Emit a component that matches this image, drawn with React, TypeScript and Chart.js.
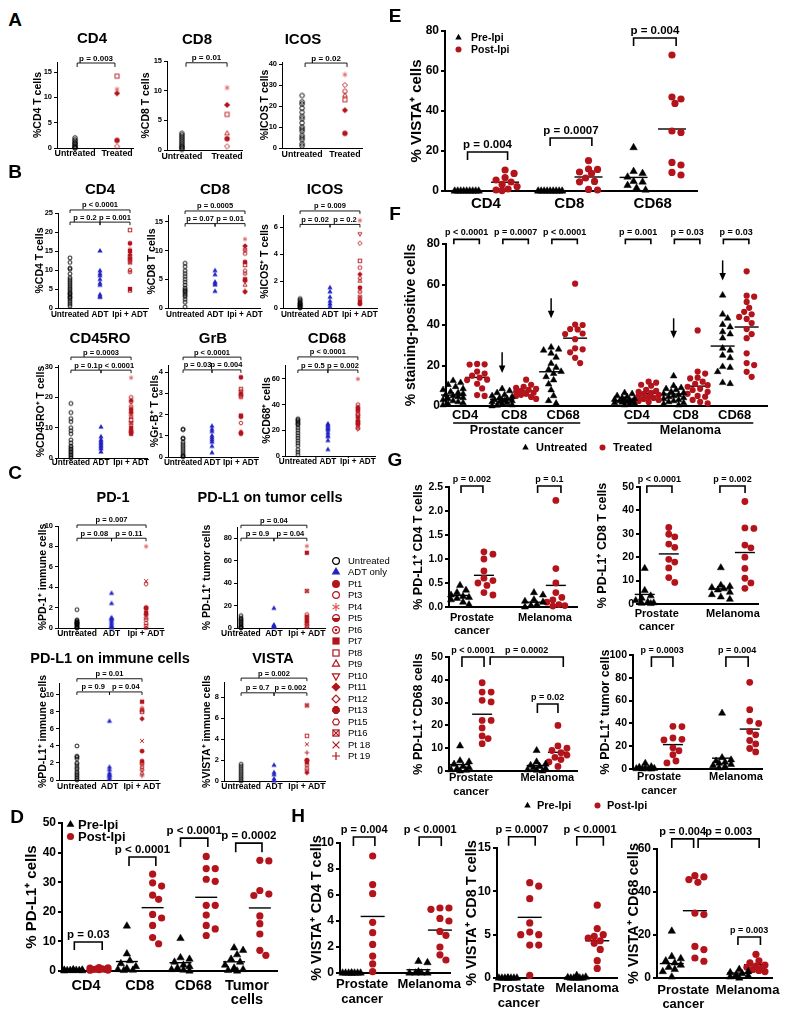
import React, { useEffect, useRef } from 'react';
import { Chart, registerables } from 'chart.js';

Chart.register(...registerables);
const FONT = '"Liberation Sans", Arial, Helvetica, sans-serif';
Chart.defaults.font.family = FONT;
Chart.defaults.color = '#000';

const RED = '#b3141c';
const PINK = '#dd5a5a';
const BLUE = '#2323c4';

// ---------------- DATA ----------------
// Panel A
const A_CD4_UNT = [2.0, 1.6, 1.3, 1.0, 0.8, 0.5, 0.3, 0.1, 0];
const A_CD4_TRT = [14.2, 11.6, 10.8, 1.5, 0.3];
const A_CD4_TRT_PT = ['Pt8', 'Pt4', 'Pt11', 'Pt1', 'Pt12'];
const A_CD8_UNT = [2.8, 2.5, 2.2, 1.9, 1.6, 1.3, 1.0, 0.7, 0.5, 0.3, 0.1];
const A_CD8_TRT = [10.5, 7.6, 6.0, 2.8, 1.9, 0.6];
const A_CD8_TRT_PT = ['Pt4', 'Pt11', 'Pt8', 'Pt9', 'Pt1', 'Pt12'];
const A_ICOS_UNT = [25, 22, 21, 19, 17, 15, 14, 12, 10, 9, 8, 6, 5, 4, 2, 1];
const A_ICOS_TRT = [35, 30, 27, 25, 23, 18, 7];
const A_ICOS_TRT_PT = ['Pt4', 'Pt12', 'Pt3', 'Pt9', 'Pt8', 'Pt11', 'Pt1'];

// Panel B
const B_CD4_UNT = [13.2, 12.0, 10.5, 10.2, 9.0, 8.0, 7.5, 7.0, 6.5, 6.0, 5.5, 5.0, 4.5, 4.0, 3.8, 3.5, 3.0, 2.8, 2.5, 2.0, 1.5, 1.0, 0.5];
const B_CD4_ADT = [15, 9.8, 9, 8.5, 7.5, 6.5, 6, 3.5, 3, 2.8];
const B_CD4_IPI = [20.5, 17, 15.5, 15, 14, 13.5, 13, 12.5, 12, 10, 9.5, 5, 4.5];
const B_CD4_IPI_PT = ['Pt8', 'Pt1', 'Pt4', 'Pt7', 'Pt11', 'Pt3', 'Pt13', 'Pt12', 'Pt16', 'Pt15', 'Pt6', 'Pt7', 'Pt9'];
const B_CD8_UNT = [7.8, 7.2, 6.5, 6.0, 5.5, 5.0, 4.5, 4.0, 3.5, 3.2, 3.0, 2.8, 2.5, 2.2, 2.0, 1.5, 1.0, 0.2];
const B_CD8_ADT = [6.5, 5.8, 4.5, 4.3, 4.0, 2.9];
const B_CD8_IPI = [12.0, 10.8, 10.2, 10.0, 9.5, 8.0, 7.5, 6.5, 6.0, 5.0, 4.8, 4.0, 3.0, 2.8];
const B_CD8_IPI_PT = ['Pt4', 'Pt11', 'Pt10', 'Pt12', 'Pt3', 'Pt1', 'Pt8', 'Pt15', 'Pt6', 'Pt7', 'Pt13', 'Pt9', 'Pt 19', 'Pt11'];
const B_ICOS_UNT = [0.7, 0.6, 0.5, 0.4, 0.35, 0.3, 0.25, 0.2, 0.15, 0.1, 0.05, 0];
const B_ICOS_ADT = [1.5, 1.2, 0.8, 0.5, 0.3, 0.1];
const B_ICOS_IPI = [6.5, 5.5, 4.8, 3.5, 3.0, 2.5, 2.2, 2.0, 1.5, 1.2, 0.8, 0.5, 0.3];
const B_ICOS_IPI_PT = ['Pt4', 'Pt10', 'Pt12', 'Pt8', 'Pt3', 'Pt11', 'Pt15', 'Pt9', 'Pt1', 'Pt6', 'Pt16', 'Pt7', 'Pt13'];
const B_CD45_UNT = [18, 15, 13, 12, 10, 9, 8, 6, 5, 4, 3.5, 3, 2.5, 2, 1.5, 1, 0.5, 0];
const B_CD45_ADT = [10.2, 7, 6, 5.5, 5, 4.5, 4, 3.5, 3, 2];
const B_CD45_IPI = [26.5, 20, 19, 18.5, 17, 16, 15, 14, 13.5, 12.5, 11.5, 10, 9, 8.5, 8];
const B_CD45_IPI_PT = ['Pt4', 'Pt3', 'Pt11', 'Pt15', 'Pt6', 'Pt1', 'Pt13', 'Pt12', 'Pt9', 'Pt8', 'Pt16', 'Pt7', 'Pt1', 'Pt13', 'Pt7'];
const B_GRB_UNT = [1.3, 1.3, 0.9, 0.85, 0.7, 0.6, 0.5, 0.4, 0.3, 0.2, 0.1, 0.05, 0];
const B_GRB_ADT = [1.45, 1.3, 1.2, 1.0, 0.9, 0.8, 0.7, 0.5, 0.2];
const B_GRB_IPI = [3.75, 3.2, 3.1, 3.0, 2.9, 2.85, 2.8, 1.95, 1.9, 1.6, 1.2, 1.15, 1.1];
const B_GRB_IPI_PT = ['Pt1', 'Pt8', 'Pt3', 'Pt11', 'Pt13', 'Pt7', 'Pt4', 'Pt7', 'Pt1', 'Pt15', 'Pt4', 'Pt11', 'Pt1'];
const B_CD68_UNT = [29, 28, 27, 26, 25, 24, 22, 20, 18, 16, 14, 12, 10, 8, 5, 3, 1];
const B_CD68_ADT = [25, 24, 23, 22, 21, 20, 18, 16, 15, 12, 5];
const B_CD68_IPI = [60, 40, 38, 37, 36, 35, 33, 32, 30, 28, 27, 26, 25, 23, 22, 21];
const B_CD68_IPI_PT = ['Pt4', 'Pt3', 'Pt11', 'Pt12', 'Pt1', 'Pt15', 'Pt8', 'Pt6', 'Pt13', 'Pt9', 'Pt7', 'Pt16', 'Pt1', 'Pt10', 'Pt3', 'Pt12'];

// Panel C
const C_PD1_UNT = [1.8, 0.8, 0.7, 0.6, 0.55, 0.5, 0.45, 0.4, 0.35, 0.3, 0.2, 0.1, 0.05, 0];
const C_PD1_ADT = [3.4, 2.4, 1.0, 0.9, 0.8, 0.6, 0.4, 0.2, 0.1, 0];
const C_PD1_IPI = [8.0, 4.6, 4.3, 2.0, 1.9, 1.5, 1.3, 1.0, 0.8, 0.5, 0.2, 0.0];
const C_PD1_IPI_PT = ['Pt4', 'Pt 18', 'Pt15', 'Pt13', 'Pt1', 'Pt7', 'Pt11', 'Pt6', 'Pt3', 'Pt12', 'Pt8', 'Pt9'];
const C_TUM_UNT = [11, 9, 8, 7, 6, 5, 4, 3, 2, 1, 0.5, 0];
const C_TUM_ADT = [17.5, 2.5, 2, 1.5, 1, 0.5];
const C_TUM_IPI = [73, 67, 33, 12, 10, 8, 6, 5, 3, 2, 1];
const C_TUM_IPI_PT = ['Pt4', 'Pt7', 'Pt16', 'Pt3', 'Pt13', 'Pt11', 'Pt1', 'Pt6', 'Pt12', 'Pt8', 'Pt9'];
const C_IMM_UNT = [4.0, 2.8, 2.7, 2.5, 2.0, 1.8, 1.5, 1.3, 1.0, 0.8, 0.6, 0.4, 0.2, 0];
const C_IMM_ADT = [6.9, 1.5, 1.2, 0.8, 0.6, 0.5, 0.3, 0.1];
const C_IMM_IPI = [9.2, 8.5, 8.2, 8.0, 7.2, 4.6, 3.4, 2.2, 2.0, 1.8, 1.5, 1.2, 0.8, 0.5];
const C_IMM_IPI_PT = ['Pt7', 'Pt4', 'Pt16', 'Pt8', 'Pt11', 'Pt 18', 'Pt13', 'Pt1', 'Pt3', 'Pt12', 'Pt15', 'Pt6', 'Pt9', 'Pt 19'];
const C_VISTA_UNT = [1.6, 1.4, 1.2, 1.0, 0.8, 0.6, 0.4, 0.2, 0];
const C_VISTA_ADT = [1.5, 0.8, 0.6, 0.2, 0];
const C_VISTA_IPI = [7.2, 4.3, 3.5, 2.7, 2.0, 1.9, 1.8, 1.5, 1.2, 1.0, 0.8];
const C_VISTA_IPI_PT = ['Pt16', 'Pt8', 'Pt 18', 'Pt 19', 'Pt13', 'Pt1', 'Pt7', 'Pt6', 'Pt3', 'Pt12', 'Pt11'];
const C_LEGEND = ['Untreated', 'ADT only', 'Pt1', 'Pt3', 'Pt4', 'Pt5', 'Pt6', 'Pt7', 'Pt8', 'Pt9', 'Pt10', 'Pt11', 'Pt12', 'Pt13', 'Pt15', 'Pt16', 'Pt 18', 'Pt 19'];

// Panel D / G (PD-L1, prostate) and G (melanoma)
const PDL1_CD4_PRO_PRE = [0.45, 0.35, 0.3, 0.25, 0.22, 0.2, 0.18, 0.15, 0.1, 0.05];
const PDL1_CD4_PRO_POST = [1.15, 1.1, 1.0, 0.75, 0.6, 0.55, 0.5, 0.45, 0.3, 0.25];
const PDL1_CD8_PRO_PRE = [15.2, 5.8, 3.5, 2.5, 1.5, 0.8, 0.5, 0.3, 0.2];
const PDL1_CD8_PRO_POST = [32.7, 29.8, 28.7, 25.6, 24.2, 19.1, 17.9, 15.4, 11.3, 9.2];
const PDL1_CD68_PRO_PRE = [11, 4.5, 4.0, 3.0, 2.0, 1.5, 1.0, 0.5, 0.3, 0];
const PDL1_CD68_PRO_POST = [38.7, 34.6, 34.6, 31, 30.3, 22.2, 22.2, 18.9, 15.4, 14.2, 12];
const PDL1_TUM_PRO_PRE_D = [7.8, 7.0, 5.5, 4.0, 3.0, 2.0, 1.0, 0.5, 0.2, 0];
const PDL1_TUM_PRO_PRE_G = [5.0, 2.0, 1.5, 1.0, 0.5, 0.3, 0.2, 0.1, 0];
const PDL1_TUM_PRO_POST = [37.4, 37.2, 27.2, 26.0, 25.5, 18.6, 16.0, 12.5, 7.0, 5.3];
const D_CATS = ['CD4', 'CD8', 'CD68', ['Tumor', 'cells']];
const D_MEAN_PRE = [0.24, 3.2, 2.8, 3.1];
const D_MEAN_POST = [0.66, 21.4, 24.9, 21.3];

const G_CD4_MEL_PRE = [0.3, 0.25, 0.15, 0.12, 0.1, 0.05, 0.03, 0];
const G_CD4_MEL_POST = [2.22, 0.8, 0.5, 0.3, 0.2, 0.15, 0.1, 0.05, 0.03, 0.02];
const G_CD8_MEL_PRE = [15.5, 8, 7.5, 7, 6.5, 6, 5, 4, 3, 2];
const G_CD8_MEL_POST = [43.8, 32.5, 32.3, 25.2, 24, 20, 15.2, 11, 9, 6.7];
const G_CD68_MEL_PRE = [9, 4, 3, 2.5, 2, 1.5, 1, 0.5, 0.3, 0];
const G_CD68_MEL_POST = [20, 11, 10, 9, 8, 7, 6, 5, 4, 2];
const G_TUM_MEL_PRE = [49, 10, 8, 7, 6, 5, 4, 3, 2, 1];
const G_TUM_MEL_POST = [76, 52, 42, 40, 33, 30, 25, 22, 18, 15];
const G_CATS = [['Prostate', 'cancer'], 'Melanoma'];

// Panel E (VISTA, prostate)
const E_CD4_PRE = [0, 0, 0, 0, 0, 0, 0, 0, 0];
const E_CD4_POST = [10.5, 8.8, 6.7, 5.5, 4.5, 3.3, 2.2, 1.0, 0.5, 0.2];
const E_CD8_PRE = [0, 0, 0, 0, 0, 0, 0, 0, 0];
const E_CD8_POST = [15.2, 11, 10.8, 9.5, 8.8, 6.5, 4.8, 4.6, 0.8, 0.5];
const E_CD68_PRE = [21.7, 9.8, 8.8, 7.0, 4.8, 4.5, 2.8, 1.5, 0.5];
const E_CD68_POST = [68, 47, 46, 43.8, 30, 29.3, 14.3, 13, 9.3, 8];
const E_CATS = ['CD4', 'CD8', 'CD68'];
const E_MEAN_POST = [4.4, 7.0, 31];

// Panel F
const F_PRO_CD4_UNT = [12.5, 11.5, 10.5, 9.5, 8.5, 8.0, 7.0, 6.5, 6.0, 5.5, 5.0, 4.5, 4.0, 3.5, 3.0, 2.5, 2.0, 1.5, 1.0, 0.5];
const F_PRO_CD4_TRT = [20.8, 20.6, 20.5, 17, 16, 15, 14, 13, 12.8, 11, 8.7, 5.4, 5];
const F_PRO_CD8_UNT = [8.5, 7.5, 6.5, 5.5, 5.0, 4.5, 4.0, 3.5, 3.0, 3.0, 2.5, 2.5, 2.0, 2.0, 1.5, 1.0, 0.5, 0.3, 0];
const F_PRO_CD8_TRT = [13, 10.5, 9.5, 9, 8.5, 8, 7.5, 7, 6.5, 6, 5.5, 5, 4.5, 3.5];
const F_PRO_CD68_UNT = [29, 28, 27.5, 26, 24, 21, 19, 18, 17, 16, 14.4, 12.8, 10.8, 7.9, 5, 2.6, 1.3];
const F_PRO_CD68_TRT = [60.4, 40.2, 40, 38, 37.8, 35.8, 35.5, 33, 28.5, 28, 26.5, 23.8, 21.2];
const F_MEL_CD4_UNT = [6.5, 6, 5, 4.5, 4, 3.5, 3.2, 3, 2.8, 2.5, 2.2, 2, 1.8, 1.5, 1.2, 1, 0.5];
const F_MEL_CD4_TRT = [12, 11.5, 10.5, 10, 8, 7.5, 7, 6.5, 6, 5.5, 5, 4.5, 4, 3.5, 3, 2.5, 2];
const F_MEL_CD8_UNT = [14.8, 10, 9, 8.5, 8, 7, 6.5, 6, 5.5, 5, 4.5, 4, 3.5, 3, 2.5, 2, 1.5, 1, 0.5];
const F_MEL_CD8_TRT = [37.3, 17, 16, 14, 13.6, 12, 11, 10.3, 9.5, 8.5, 7.9, 7, 6, 5, 4.6, 3, 2, 1.3];
const F_MEL_CD68_UNT = [54.7, 45.3, 43.3, 40.2, 39, 36.6, 35.5, 33.5, 28.5, 27.5, 25, 23.8, 19.4, 19, 16.9, 11.5, 11];
const F_MEL_CD68_TRT = [66.5, 54.5, 54, 51.4, 48.5, 46.5, 45.3, 44, 43, 41, 38, 35.5, 33.5, 26, 21.2, 20.2, 16.9, 14.4];
const F_CATS = ['CD4', 'CD8', 'CD68', 'CD4', 'CD8', 'CD68'];
const F_MEAN_UNT = [5.4, 3.3, 16.9, 2.6, 5.9, 29.6];
const F_MEAN_TRT = [14.1, 7.4, 33.5, 6.2, 9.8, 39];
const F_P = ['p < 0.0001', 'p = 0.0007', 'p < 0.0001', 'p = 0.001', 'p = 0.03', 'p = 0.03'];

// Panel H (VISTA)
const H_CD4_PRO_PRE = [0, 0, 0, 0, 0, 0, 0, 0];
const H_CD4_PRO_POST = [9.0, 6.8, 6.1, 3.9, 3.1, 2.2, 1.3, 0.7, 0.1];
const H_CD4_MEL_PRE = [0.9, 0.8, 0.1, 0, 0, 0, 0];
const H_CD4_MEL_POST = [5, 5, 4.9, 4.2, 4, 3.2, 2.9, 2, 1.4, 1];
const H_CD8_PRO_PRE = [0, 0, 0, 0, 0, 0, 0, 0];
const H_CD8_PRO_POST = [11, 10.6, 9.15, 6.35, 5.3, 5.0, 5.0, 3.8, 3.8, 0.3];
const H_CD8_MEL_PRE = [0.3, 0.1, 0.05, 0, 0, 0, 0, 0];
const H_CD8_MEL_POST = [8.4, 5.7, 5.0, 4.8, 4.6, 4.3, 4.0, 3.3, 2, 1.1];
const H_CD68_PRO_PRE = [21.8, 10, 9, 8, 7, 6, 5, 4, 3, 0.5];
const H_CD68_PRO_POST = [47.6, 47, 45.8, 44.5, 30.2, 29.5, 14.7, 13.2, 9.3, 7.8];
const H_CD68_MEL_PRE = [4, 3, 2.5, 2, 1.5, 1, 0.5, 0];
const H_CD68_MEL_POST = [11, 8, 7, 6, 5.5, 5, 4.5, 4, 3.5, 3];

// ---------------- MARKERS ----------------
const PT_STYLE: Record<string, [string, string]> = {
  Untreated: ['circleOpen', '#000'],
  'ADT only': ['triFilled', BLUE],
  Pt1: ['circleFilled', RED],
  Pt3: ['circleOpen', RED],
  Pt4: ['star', PINK],
  Pt5: ['halfCircle', RED],
  Pt6: ['circleDot', RED],
  Pt7: ['squareFilled', RED],
  Pt8: ['squareOpen', RED],
  Pt9: ['triOpen', RED],
  Pt10: ['triDownOpen', RED],
  Pt11: ['diamondFilled', RED],
  Pt12: ['diamondOpen', RED],
  Pt13: ['octFilled', RED],
  Pt15: ['hexOpen', RED],
  Pt16: ['boxX', RED],
  'Pt 18': ['x', RED],
  'Pt 19': ['plus', RED],
};

function drawMarker(ctx: CanvasRenderingContext2D, kind: string, cx: number, cy: number, r: number, color: string, lw: number) {
  ctx.save();
  ctx.strokeStyle = color;
  ctx.fillStyle = color;
  ctx.lineWidth = lw;
  const poly = (n: number, rot: number, rr: number) => {
    ctx.beginPath();
    for (let i = 0; i < n; i++) {
      const a = rot + (i * 2 * Math.PI) / n;
      const px = cx + rr * Math.cos(a);
      const py = cy + rr * Math.sin(a);
      if (i === 0) ctx.moveTo(px, py);
      else ctx.lineTo(px, py);
    }
    ctx.closePath();
  };
  const ri = r - lw / 2;
  const circ = (rr: number) => {
    ctx.beginPath();
    ctx.arc(cx, cy, rr, 0, Math.PI * 2);
  };
  switch (kind) {
    case 'circleOpen': circ(ri); ctx.stroke(); break;
    case 'circleFilled': circ(r); ctx.fill(); break;
    case 'octFilled': poly(8, Math.PI / 8, r * 1.05); ctx.fill(); break;
    case 'hexOpen': poly(6, 0, ri); ctx.stroke(); break;
    case 'halfCircle':
      circ(ri); ctx.stroke();
      ctx.beginPath(); ctx.arc(cx, cy, ri, 0, Math.PI); ctx.closePath(); ctx.fill();
      break;
    case 'circleDot':
      circ(ri); ctx.stroke();
      circ(r * 0.32); ctx.fill();
      break;
    case 'triFilled': poly(3, -Math.PI / 2, r * 1.25); ctx.fill(); break;
    case 'triOpen': poly(3, -Math.PI / 2, ri * 1.2); ctx.stroke(); break;
    case 'triDownOpen': poly(3, Math.PI / 2, ri * 1.2); ctx.stroke(); break;
    case 'squareFilled': ctx.fillRect(cx - r * 0.9, cy - r * 0.9, r * 1.8, r * 1.8); break;
    case 'squareOpen': ctx.strokeRect(cx - ri * 0.9, cy - ri * 0.9, ri * 1.8, ri * 1.8); break;
    case 'boxX':
      ctx.strokeRect(cx - ri * 0.9, cy - ri * 0.9, ri * 1.8, ri * 1.8);
      ctx.beginPath();
      ctx.moveTo(cx - ri * 0.9, cy - ri * 0.9); ctx.lineTo(cx + ri * 0.9, cy + ri * 0.9);
      ctx.moveTo(cx + ri * 0.9, cy - ri * 0.9); ctx.lineTo(cx - ri * 0.9, cy + ri * 0.9);
      ctx.stroke();
      break;
    case 'diamondFilled': poly(4, -Math.PI / 2, r * 1.15); ctx.fill(); break;
    case 'diamondOpen': poly(4, -Math.PI / 2, ri * 1.15); ctx.stroke(); break;
    case 'star':
      ctx.beginPath();
      for (let k = 0; k < 3; k++) {
        const a = Math.PI / 2 + (k * Math.PI) / 3;
        ctx.moveTo(cx - r * Math.cos(a), cy - r * Math.sin(a));
        ctx.lineTo(cx + r * Math.cos(a), cy + r * Math.sin(a));
      }
      ctx.stroke();
      break;
    case 'x':
      ctx.beginPath();
      ctx.moveTo(cx - r * 0.85, cy - r * 0.85); ctx.lineTo(cx + r * 0.85, cy + r * 0.85);
      ctx.moveTo(cx + r * 0.85, cy - r * 0.85); ctx.lineTo(cx - r * 0.85, cy + r * 0.85);
      ctx.stroke();
      break;
    case 'plus':
      ctx.beginPath();
      ctx.moveTo(cx - r, cy); ctx.lineTo(cx + r, cy);
      ctx.moveTo(cx, cy - r); ctx.lineTo(cx, cy + r);
      ctx.stroke();
      break;
  }
  ctx.restore();
}

const mkCache = new Map<string, HTMLCanvasElement>();
function markerImg(pt: string, r: number, lw: number) {
  const key = pt + '|' + r + '|' + lw;
  const hit = mkCache.get(key);
  if (hit) return hit;
  const [kind, color] = PT_STYLE[pt];
  const s = Math.ceil(r * 2.6 + lw + 2);
  const c = document.createElement('canvas');
  c.width = s;
  c.height = s;
  drawMarker(c.getContext('2d')!, kind, s / 2, s / 2, r, color, lw);
  mkCache.set(key, c);
  return c;
}

// deterministic beeswarm layout (pixel offsets)
function swarm(vals: number[], yppu: number, diam: number, step: number, maxPx: number) {
  const idx = vals.map((_, i) => i).sort((a, b) => vals[b] - vals[a]);
  const placed: [number, number][] = [];
  const out = vals.map(() => 0);
  for (const i of idx) {
    const y = vals[i] * yppu;
    let best = 0;
    let bestD = -1;
    for (let k = 0; k < 80; k++) {
      const m = Math.ceil(k / 2) * (k % 2 ? 1 : -1);
      const cx = m * step;
      if (Math.abs(cx) > maxPx) break;
      let dmin = Infinity;
      for (const [px, py] of placed) dmin = Math.min(dmin, Math.hypot(px - cx, py - y));
      if (dmin >= diam) { best = cx; bestD = dmin; break; }
      if (dmin > bestD + 0.01) { bestD = dmin; best = cx; }
    }
    placed.push([best, y]);
    out[i] = best;
  }
  return out;
}

// ---------------- SPECS ----------------
type Grp = { x: number; vals: number[]; pts?: string | string[]; kind?: 'pre' | 'post'; mean?: number };
type Br = { x1: number; x2: number; y: number; t: string; dl?: number; dr?: number; f?: number };
type Spec = {
  key: string; style: 'small' | 'big'; box: number[]; xMin: number; xMax: number; yMax: number;
  yTicks: number[]; yDec?: number; xTicks: number[]; xLabels: any[]; groups: Grp[]; brackets: Br[];
  yTitle: string; yTitleX: number; o?: any;
  arrows?: { x: number; y1: number; y2: number }[];
  glabels?: { x1: number; x2: number; t: string; dy1: number; dy2: number }[];
};

const SMALL = { axisW: 1, tickLen: 3, tickFont: 7.5, xFont: 8.2, xLH: 1.2, xPad: 1, yTitleFont: 10.5, brFont: 7.5, brLw: 0.9, brDrop: 3, brGap: 2.5, mr: 2.4, mlw: 0.9, swarm: false, diam: 5, step: 2, maxPx: 0, circR: 3, triR: 3, meanHalf: 0, meanW: 1 };
const BIG = { axisW: 2, tickLen: 4, tickFont: 12, xFont: 14.5, xLH: 1.2, xPad: 4, yTitleFont: 15, brFont: 11.5, brLw: 1.6, brDrop: 9, brGap: 4, mr: 3, mlw: 1, swarm: true, diam: 7, step: 3, maxPx: 12, circR: 3.6, triR: 4.3, meanHalf: 11, meanW: 1.4 };

const tri = (unt: number[], adt: number[], ipi: number[], pts: string[]): Grp[] => [
  { x: 0, vals: unt, pts: 'Untreated' },
  { x: 1, vals: adt, pts: 'ADT only' },
  { x: 2, vals: ipi, pts },
];
const b3 = (yTop: number, yLow: number, t: string[]): Br[] => [
  { x1: 0, x2: 2, y: yTop, t: t[0] },
  { x1: 0, x2: 1, y: yLow, t: t[1] },
  { x1: 1, x2: 2, y: yLow, t: t[2] },
];
const pp = (c: number, off: number, pre: number[], post: number[], mPre?: number, mPost?: number): Grp[] => [
  { x: c - off, vals: pre, kind: 'pre', mean: mPre },
  { x: c + off, vals: post, kind: 'post', mean: mPost },
];
const BX3 = ['Untreated', 'ADT', 'Ipi + ADT'];
const D_O = { tickFont: 12, xFont: 14.5, yTitleFont: 15, brFont: 11.5, meanHalf: 11, maxPx: 11, xLH: 0.95, xPad: 8 };
const G_O = { tickFont: 10.5, xFont: 11, yTitleFont: 12.5, brFont: 9, brDrop: 7, circR: 3.4, triR: 4.1, meanHalf: 10, maxPx: 9, diam: 6.5, xLH: 1.2 };
const H_O = { tickFont: 12, xFont: 13, yTitleFont: 14.5, brFont: 11, brDrop: 9, meanHalf: 12, maxPx: 10, xLH: 1.15 };
const A_O = { brFont: 8, brDrop: 4, xFont: 8.8, mr: 2.7 };

const SPECS: Spec[] = [
  // ---- A ----
  { key: 'aCD4', style: 'small', box: [57, 62, 133, 148], xMin: -0.43, xMax: 1.38, yMax: 17, yTicks: [0, 5, 10, 15], xTicks: [0, 1], xLabels: ['Untreated', 'Treated'], yTitle: '%CD4 T cells', yTitleX: 38, o: { ...A_O, xPad: 0.6 },
    groups: [{ x: 0, vals: A_CD4_UNT, pts: 'Untreated' }, { x: 1, vals: A_CD4_TRT, pts: A_CD4_TRT_PT }], brackets: [{ x1: 0.05, x2: 0.95, y: 16.8, t: 'p = 0.003' }] },
  { key: 'aCD8', style: 'small', box: [167, 61, 242, 150], xMin: -0.33, xMax: 1.33, yMax: 15, yTicks: [0, 5, 10, 15], xTicks: [0, 1], xLabels: ['Untreated', 'Treated'], yTitle: '%CD8 T cells', yTitleX: 146, o: { ...A_O, xPad: 1.6 },
    groups: [{ x: 0, vals: A_CD8_UNT, pts: 'Untreated' }, { x: 1, vals: A_CD8_TRT, pts: A_CD8_TRT_PT }], brackets: [{ x1: 0.09, x2: 1.0, y: 14.7, t: 'p = 0.01' }] },
  { key: 'aICOS', style: 'small', box: [282, 62, 362, 148], xMin: -0.47, xMax: 1.4, yMax: 41, yTicks: [0, 10, 20, 30, 40], xTicks: [0, 1], xLabels: ['Untreated', 'Treated'], yTitle: '%ICOS T cells', yTitleX: 265, o: { ...A_O, xPad: 1 },
    groups: [{ x: 0, vals: A_ICOS_UNT, pts: 'Untreated' }, { x: 1, vals: A_ICOS_TRT, pts: A_ICOS_TRT_PT }], brackets: [{ x1: 0.07, x2: 1.05, y: 40.5, t: 'p = 0.02' }] },
  // ---- B ----
  { key: 'bCD4', style: 'small', box: [58, 213, 148, 308], xMin: -0.4, xMax: 2.6, yMax: 25, yTicks: [0, 5, 10, 15, 20, 25], xTicks: [0, 1, 2], xLabels: BX3, yTitle: '%CD4 T cells', yTitleX: 40, o: { xPad: 1.6 },
    groups: tri(B_CD4_UNT, B_CD4_ADT, B_CD4_IPI, B_CD4_IPI_PT), brackets: b3(25.8, 22.6, ['p < 0.0001', 'p = 0.2', 'p = 0.001']) },
  { key: 'bCD8', style: 'small', box: [168, 215, 260, 308], xMin: -0.57, xMax: 2.5, yMax: 16.2, yTicks: [0, 5, 10, 15], xTicks: [0, 1, 2], xLabels: BX3, yTitle: '%CD8 T cells', yTitleX: 152, o: { xPad: 1.6 },
    groups: tri(B_CD8_UNT, B_CD8_ADT, B_CD8_IPI, B_CD8_IPI_PT), brackets: b3(16.9, 14.7, ['p = 0.0005', 'p = 0.07', 'p = 0.01']) },
  { key: 'bICOS', style: 'small', box: [283, 215, 377, 308], xMin: -0.57, xMax: 2.57, yMax: 6.9, yTicks: [0, 2, 4, 6], xTicks: [0, 1, 2], xLabels: BX3, yTitle: '%ICOS\u207A T cells', yTitleX: 265, o: { xPad: 1.6 },
    groups: tri(B_ICOS_UNT, B_ICOS_ADT, B_ICOS_IPI, B_ICOS_IPI_PT), brackets: b3(7.2, 6.2, ['p = 0.009', 'p = 0.02', 'p = 0.2']) },
  { key: 'bCD45', style: 'small', box: [58, 365, 147, 458], xMin: -0.43, xMax: 2.53, yMax: 30.7, yTicks: [0, 10, 20, 30], xTicks: [0, 1, 2], xLabels: BX3, yTitle: '%CD45RO\u207A T cells', yTitleX: 41, o: { xPad: 0 },
    groups: tri(B_CD45_UNT, B_CD45_ADT, B_CD45_IPI, B_CD45_IPI_PT), brackets: b3(33.3, 29, ['p = 0.0003', 'p = 0.1', 'p < 0.0001']) },
  { key: 'bGrB', style: 'small', box: [168, 365, 258, 457], xMin: -0.52, xMax: 2.59, yMax: 4.33, yTicks: [0, 1, 2, 3, 4], xTicks: [0, 1, 2], xLabels: BX3, yTitle: '%Gr-B\u207A T cells', yTitleX: 155, o: { xPad: 0.5 },
    groups: tri(B_GRB_UNT, B_GRB_ADT, B_GRB_IPI, B_GRB_IPI_PT), brackets: b3(4.7, 4.1, ['p < 0.0001', 'p = 0.03', 'p = 0.004']) },
  { key: 'bCD68', style: 'small', box: [285, 365, 375, 456], xMin: -0.43, xMax: 2.57, yMax: 70.9, yTicks: [0, 20, 40, 60], xTicks: [0, 1, 2], xLabels: BX3, yTitle: '%CD68\u207A cells', yTitleX: 267, o: { xPad: 1 },
    groups: tri(B_CD68_UNT, B_CD68_ADT, B_CD68_IPI, B_CD68_IPI_PT), brackets: b3(77.2, 67, ['p < 0.0001', 'p = 0.5', 'p = 0.002']) },
  // ---- C ----
  { key: 'cPD1', style: 'small', box: [58, 526, 163, 628], xMin: -0.55, xMax: 2.49, yMax: 10, yTicks: [0, 2, 4, 6, 8, 10], xTicks: [0, 1, 2], xLabels: BX3, yTitle: '%PD-1\u207A immune cells', yTitleX: 43, o: { xPad: 0.6, xFont: 8.5 },
    groups: tri(C_PD1_UNT, C_PD1_ADT, C_PD1_IPI, C_PD1_IPI_PT), brackets: b3(10.1, 8.8, ['p = 0.007', 'p = 0.08', 'p = 0.11']) },
  { key: 'cTUM', style: 'small', box: [237, 527, 325, 628], xMin: -0.12, xMax: 2.55, yMax: 90, yTicks: [0, 20, 40, 60, 80], xTicks: [0, 1, 2], xLabels: BX3, yTitle: '% PD-L1\u207A tumor cells', yTitleX: 207, o: { xPad: 0.6, xFont: 8.5 },
    groups: tri(C_TUM_UNT, C_TUM_ADT, C_TUM_IPI, C_TUM_IPI_PT), brackets: b3(91.6, 80, ['p = 0.04', 'p = 0.9', 'p = 0.04']) },
  { key: 'cIMM', style: 'small', box: [59, 683, 158, 780], xMin: -0.55, xMax: 2.49, yMax: 11.4, yTicks: [0, 2, 4, 6, 8, 10], xTicks: [0, 1, 2], xLabels: BX3, yTitle: '%PD-L1\u207A immune cells', yTitleX: 43, o: { xPad: 1.6, xFont: 8.5 },
    groups: tri(C_IMM_UNT, C_IMM_ADT, C_IMM_IPI, C_IMM_IPI_PT), brackets: b3(11.9, 10.35, ['p = 0.01', 'p = 0.9', 'p = 0.04']) },
  { key: 'cVISTA', style: 'small', box: [224, 682, 325, 781], xMin: -0.52, xMax: 2.55, yMax: 9.43, yTicks: [0, 2, 4, 6, 8], xTicks: [0, 1, 2], xLabels: BX3, yTitle: '%VISTA\u207A immune cells', yTitleX: 207, o: { xPad: 0.6, xFont: 8.5 },
    groups: tri(C_VISTA_UNT, C_VISTA_ADT, C_VISTA_IPI, C_VISTA_IPI_PT), brackets: b3(9.8, 8.4, ['p = 0.002', 'p = 0.7', 'p = 0.002']) },
  // ---- D ----
  { key: 'd', style: 'big', box: [62, 823, 277, 971], xMin: -0.45, xMax: 3.56, yMax: 50, yTicks: [0, 10, 20, 30, 40, 50], xTicks: [0, 1, 2, 3], xLabels: D_CATS, yTitle: '% PD-L1\u207A cells', yTitleX: 32, o: D_O,
    groups: [
      ...pp(0, 0.24, PDL1_CD4_PRO_PRE, PDL1_CD4_PRO_POST, D_MEAN_PRE[0], D_MEAN_POST[0]),
      ...pp(1, 0.24, PDL1_CD8_PRO_PRE, PDL1_CD8_PRO_POST, D_MEAN_PRE[1], D_MEAN_POST[1]),
      ...pp(2, 0.24, PDL1_CD68_PRO_PRE, PDL1_CD68_PRO_POST, D_MEAN_PRE[2], D_MEAN_POST[2]),
      ...pp(3, 0.24, PDL1_TUM_PRO_PRE_D, PDL1_TUM_PRO_POST, D_MEAN_PRE[3], D_MEAN_POST[3]),
    ],
    brackets: [
      { x1: -0.22, x2: 0.3, y: 9.8, t: 'p = 0.03', dl: 8, dr: 8 },
      { x1: 0.8, x2: 1.3, y: 38.5, t: 'p < 0.0001' },
      { x1: 1.76, x2: 2.27, y: 44.9, t: 'p < 0.0001' },
      { x1: 2.79, x2: 3.28, y: 43.2, t: 'p = 0.0002' },
    ] },
  // ---- E ----
  { key: 'e', style: 'big', box: [445, 31, 697, 191], xMin: -0.49, xMax: 2.53, yMax: 80, yTicks: [0, 20, 40, 60, 80], xTicks: [0, 1, 2], xLabels: E_CATS, yTitle: '% VISTA\u207A cells', yTitleX: 417, o: { tickFont: 12, xFont: 15, yTitleFont: 15, brFont: 11.5, meanHalf: 14, maxPx: 12, xPad: 4, brDrop: 8 },
    groups: [
      ...pp(0, 0.23, E_CD4_PRE, E_CD4_POST, undefined, E_MEAN_POST[0]),
      ...pp(1, 0.23, E_CD8_PRE, E_CD8_POST, undefined, E_MEAN_POST[1]),
      ...pp(2, 0.23, E_CD68_PRE, E_CD68_POST, 6.8, E_MEAN_POST[2]),
    ],
    brackets: [
      { x1: -0.22, x2: 0.26, y: 19.5, t: 'p = 0.004' },
      { x1: 0.77, x2: 1.27, y: 26.5, t: 'p = 0.0007' },
      { x1: 1.77, x2: 2.28, y: 76.5, t: 'p = 0.004' },
    ] },
  // ---- F ----
  { key: 'f', style: 'big', box: [446, 244, 767, 406], xMin: -0.39, xMax: 6.16, yMax: 80, yTicks: [0, 20, 40, 60, 80], xTicks: [0, 1, 2, 3.5, 4.5, 5.5], xLabels: F_CATS, yTitle: '% staining-positive cells', yTitleX: 411,
    o: { tickFont: 12, xFont: 13, yTitleFont: 14, brFont: 9, brDrop: 5, meanHalf: 12, maxPx: 10, diam: 6, step: 2.5, circR: 3.1, triR: 3.8, xPad: 1.2, brGap: 4 },
    groups: [
      ...pp(0, 0.245, F_PRO_CD4_UNT, F_PRO_CD4_TRT, F_MEAN_UNT[0], F_MEAN_TRT[0]),
      ...pp(1, 0.245, F_PRO_CD8_UNT, F_PRO_CD8_TRT, F_MEAN_UNT[1], F_MEAN_TRT[1]),
      ...pp(2, 0.245, F_PRO_CD68_UNT, F_PRO_CD68_TRT, F_MEAN_UNT[2], F_MEAN_TRT[2]),
      ...pp(3.5, 0.245, F_MEL_CD4_UNT, F_MEL_CD4_TRT, F_MEAN_UNT[3], F_MEAN_TRT[3]),
      ...pp(4.5, 0.245, F_MEL_CD8_UNT, F_MEL_CD8_TRT, F_MEAN_UNT[4], F_MEAN_TRT[4]),
      ...pp(5.5, 0.245, F_MEL_CD68_UNT, F_MEL_CD68_TRT, F_MEAN_UNT[5], F_MEAN_TRT[5]),
    ],
    brackets: [0, 1, 2, 3.5, 4.5, 5.5].map((c, i) => ({ x1: c - 0.23, x2: c + 0.29, y: 82.3, t: F_P[i] })),
    arrows: [
      { x: 0.755, y1: 26.6, y2: 16.3 },
      { x: 1.755, y1: 53.2, y2: 43.3 },
      { x: 4.255, y1: 43.3, y2: 33.5 },
      { x: 5.255, y1: 71.9, y2: 62 },
    ],
    glabels: [
      { x1: -0.245, x2: 2.35, t: 'Prostate cancer', dy1: 17, dy2: 25 },
      { x1: 3.31, x2: 5.88, t: 'Melanoma', dy1: 17, dy2: 25 },
    ] },
  // ---- G ----
  { key: 'g1', style: 'big', box: [449, 487, 577, 607], xMin: -0.315, xMax: 1.44, yMax: 2.5, yTicks: [0, 0.5, 1, 1.5, 2, 2.5], yDec: 1, xTicks: [0, 1], xLabels: G_CATS, yTitle: '% PD-L1\u207A CD4 T cells', yTitleX: 418,
    o: { ...G_O, xPad: 4, xLH: 1.18 },
    groups: [...pp(0, 0.164, PDL1_CD4_PRO_PRE, PDL1_CD4_PRO_POST, 0.24, 0.66), ...pp(1, 0.15, G_CD4_MEL_PRE, G_CD4_MEL_POST, 0.1, 0.45)],
    brackets: [{ x1: -0.15, x2: 0.15, y: 2.52, t: 'p = 0.002' }, { x1: 0.9, x2: 1.22, y: 2.52, t: 'p = 0.1' }] },
  { key: 'g2', style: 'big', box: [640, 487, 758, 604], xMin: -0.22, xMax: 1.33, yMax: 50, yTicks: [0, 10, 20, 30, 40, 50], xTicks: [0, 1], xLabels: G_CATS, yTitle: '% PD-L1\u207A CD8 T cells', yTitleX: 602,
    o: { ...G_O, xPad: 2.5, xLH: 1.27 },
    groups: [...pp(0, 0.158, PDL1_CD8_PRO_PRE, PDL1_CD8_PRO_POST, 4.1, 21.4), ...pp(1, 0.158, G_CD8_MEL_PRE, G_CD8_MEL_POST, 6.45, 22)],
    brackets: [{ x1: -0.13, x2: 0.2, y: 50.4, t: 'p < 0.0001' }, { x1: 0.83, x2: 1.16, y: 50.4, t: 'p = 0.002' }] },
  { key: 'g3', style: 'big', box: [449, 657, 577, 771], xMin: -0.29, xMax: 1.39, yMax: 50, yTicks: [0, 10, 20, 30, 40, 50], xTicks: [0, 1], xLabels: G_CATS, yTitle: '% PD-L1\u207A CD68 cells', yTitleX: 418,
    o: { ...G_O, xPad: 0, xLH: 1.25 },
    groups: [...pp(0, 0.145, PDL1_CD68_PRO_PRE, PDL1_CD68_PRO_POST, 2.8, 24.9), ...pp(1, 0.14, G_CD68_MEL_PRE, G_CD68_MEL_POST, 2.4, 8.2)],
    brackets: [
      { x1: -0.12, x2: 0.17, y: 50, t: 'p < 0.0001', dl: 10, dr: 10 },
      { x1: 0.25, x2: 1.21, y: 50, t: 'p = 0.0002', dl: 8, dr: 10 },
      { x1: 0.87, x2: 1.14, y: 29.4, t: 'p = 0.02', dl: 9, dr: 9 },
    ] },
  { key: 'g4', style: 'big', box: [633, 655, 762, 769], xMin: -0.34, xMax: 1.34, yMax: 100, yTicks: [0, 20, 40, 60, 80, 100], xTicks: [0, 1], xLabels: G_CATS, yTitle: '% PD-L1\u207A tumor cells', yTitleX: 605,
    o: { ...G_O, xPad: 1.5, xLH: 1.25 },
    groups: [...pp(0, 0.18, PDL1_TUM_PRO_PRE_G, PDL1_TUM_PRO_POST, 1.2, 21.4), ...pp(1, 0.18, G_TUM_MEL_PRE, G_TUM_MEL_POST, 9.5, 35)],
    brackets: [{ x1: -0.1, x2: 0.18, y: 98.2, t: 'p = 0.0003', dl: 10, dr: 10 }, { x1: 0.87, x2: 1.16, y: 98.2, t: 'p = 0.004', dl: 10, dr: 10 }] },
  // ---- H ----
  { key: 'h1', style: 'big', box: [340, 843, 450, 973], xMin: -0.33, xMax: 1.31, yMax: 10, yTicks: [0, 2, 4, 6, 8, 10], xTicks: [0, 1], xLabels: G_CATS, yTitle: '% VISTA\u207A CD4 T cells', yTitleX: 317,
    o: { ...H_O, xPad: 3.5 },
    groups: [...pp(0, 0.157, H_CD4_PRO_PRE, H_CD4_PRO_POST, undefined, 4.35), ...pp(1, 0.16, H_CD4_MEL_PRE, H_CD4_MEL_POST, 0.25, 3.3)],
    brackets: [{ x1: -0.13, x2: 0.19, y: 10.46, t: 'p = 0.004' }, { x1: 0.85, x2: 1.18, y: 10.46, t: 'p < 0.0001' }] },
  { key: 'h2', style: 'big', box: [497, 848, 617, 978], xMin: -0.32, xMax: 1.44, yMax: 15, yTicks: [0, 5, 10, 15], xTicks: [0, 1], xLabels: G_CATS, yTitle: '% VISTA\u207A CD8 T cells', yTitleX: 472,
    o: { ...H_O, xPad: 2.5 },
    groups: [...pp(0, 0.16, H_CD8_PRO_PRE, H_CD8_PRO_POST, undefined, 7.0), ...pp(1, 0.15, H_CD8_MEL_PRE, H_CD8_MEL_POST, 0.1, 4.3)],
    brackets: [{ x1: -0.15, x2: 0.24, y: 16.3, t: 'p = 0.0007' }, { x1: 0.85, x2: 1.24, y: 16.3, t: 'p < 0.0001' }] },
  { key: 'h3', style: 'big', box: [657, 849, 772, 978], xMin: -0.41, xMax: 1.38, yMax: 60, yTicks: [0, 20, 40, 60], xTicks: [0, 1], xLabels: G_CATS, yTitle: '% VISTA\u207A CD68 cells', yTitleX: 634,
    o: { ...H_O, xPad: 5, xLH: 1.08 },
    groups: [...pp(0, 0.18, H_CD68_PRO_PRE, H_CD68_PRO_POST, 6.7, 31.3), ...pp(1, 0.13, H_CD68_MEL_PRE, H_CD68_MEL_POST, 2.3, 6.2)],
    brackets: [
      { x1: -0.18, x2: 0.16, y: 64.7, t: 'p = 0.004' },
      { x1: 0.23, x2: 1.18, y: 64.7, t: 'p = 0.003' },
      { x1: 0.85, x2: 1.2, y: 19.1, t: 'p = 0.003', f: 9, dl: 8, dr: 8 },
    ] },
];

const TOP_ROOM = 46;
const RIGHT_ROOM = 24;
const BOT_ROOM = 42;

function drawExtras(chart: any, s: Spec, st: any) {
  const { ctx, chartArea } = chart;
  const xs = chart.scales.x;
  const ys = chart.scales.y;
  ctx.save();
  ctx.strokeStyle = '#000';
  ctx.fillStyle = '#000';
  for (const b of s.brackets) {
    const xa = xs.getPixelForValue(b.x1);
    const xb = xs.getPixelForValue(b.x2);
    const y = ys.getPixelForValue(b.y);
    ctx.lineWidth = st.brLw;
    ctx.beginPath();
    ctx.moveTo(xa, y + (b.dl ?? st.brDrop));
    ctx.lineTo(xa, y);
    ctx.lineTo(xb, y);
    ctx.lineTo(xb, y + (b.dr ?? st.brDrop));
    ctx.stroke();
    ctx.font = `bold ${b.f ?? st.brFont}px ${FONT}`;
    ctx.textAlign = 'center';
    ctx.textBaseline = 'alphabetic';
    ctx.fillText(b.t, (xa + xb) / 2, y - st.brGap);
  }
  for (const a of s.arrows || []) {
    const x = xs.getPixelForValue(a.x);
    const ya = ys.getPixelForValue(a.y1);
    const yb = ys.getPixelForValue(a.y2);
    ctx.lineWidth = 1.5;
    ctx.beginPath();
    ctx.moveTo(x, ya);
    ctx.lineTo(x, yb - 6);
    ctx.stroke();
    ctx.beginPath();
    ctx.moveTo(x - 3.3, yb - 7.5);
    ctx.lineTo(x + 3.3, yb - 7.5);
    ctx.lineTo(x, yb);
    ctx.closePath();
    ctx.fill();
  }
  for (const g of s.glabels || []) {
    const xa = xs.getPixelForValue(g.x1);
    const xb = xs.getPixelForValue(g.x2);
    const yl = chartArea.bottom + g.dy1;
    ctx.lineWidth = 1.3;
    ctx.beginPath();
    ctx.moveTo(xa, yl);
    ctx.lineTo(xb, yl);
    ctx.stroke();
    ctx.font = `bold 12.5px ${FONT}`;
    ctx.textAlign = 'center';
    ctx.textBaseline = 'middle';
    ctx.fillText(g.t, (xa + xb) / 2, chartArea.bottom + g.dy2);
  }
  ctx.restore();
}

function DotPlot({ s }: { s: Spec }) {
  const ref = useRef<HTMLCanvasElement | null>(null);
  const st: any = { ...(s.style === 'small' ? SMALL : BIG), ...(s.o || {}) };
  const [x0, y0, x1, y1] = s.box;
  const left = Math.round(s.yTitleX - 0.6 * st.yTitleFont);
  const top = y0 - TOP_ROOM;
  const W = x1 + RIGHT_ROOM - left;
  const H = y1 + BOT_ROOM - top;
  const yW = x0 - left;
  useEffect(() => {
    const cv = ref.current;
    if (!cv) return;
    const xppu = (x1 - x0) / (s.xMax - s.xMin);
    const yppu = (y1 - y0) / s.yMax;
    const datasets: any[] = [];
    for (const g of s.groups) {
      const offs = st.swarm ? swarm(g.vals, yppu, st.diam, st.step, st.maxPx) : g.vals.map(() => 0);
      const ds: any = {
        data: g.vals.map((v, i) => ({ x: g.x + offs[i] / xppu, y: v })),
        showLine: false,
        clip: false,
      };
      if (g.pts) {
        const arr = Array.isArray(g.pts) ? g.pts : g.vals.map(() => g.pts as string);
        ds.pointStyle = arr.map((p) => markerImg(p, st.mr, st.mlw));
        ds.pointRadius = st.mr;
      } else if (g.kind === 'pre') {
        ds.pointStyle = 'triangle';
        ds.pointRadius = st.triR;
        ds.pointBackgroundColor = '#000';
        ds.pointBorderColor = '#000';
        ds.pointBorderWidth = 0.5;
      } else {
        ds.pointStyle = 'circle';
        ds.pointRadius = st.circR;
        ds.pointBackgroundColor = RED;
        ds.pointBorderColor = RED;
        ds.pointBorderWidth = 0;
      }
      ds.pointHoverRadius = ds.pointRadius;
      datasets.push(ds);
    }
    for (const g of s.groups) {
      if (g.mean == null) continue;
      const h = st.meanHalf / xppu;
      datasets.push({
        data: [{ x: g.x - h, y: g.mean }, { x: g.x + h, y: g.mean }],
        showLine: true,
        pointRadius: 0,
        pointHoverRadius: 0,
        borderColor: '#000',
        borderWidth: st.meanW,
        clip: false,
      });
    }
    const chart = new Chart(cv, {
      type: 'scatter',
      data: { datasets },
      options: {
        animation: false,
        responsive: false,
        devicePixelRatio: 1,
        events: [],
        layout: { padding: { left: 0, top: TOP_ROOM, right: RIGHT_ROOM, bottom: 0 }, autoPadding: false },
        plugins: { legend: { display: false }, tooltip: { enabled: false } },
        scales: {
          x: {
            type: 'linear',
            min: s.xMin,
            max: s.xMax,
            afterFit: (sc: any) => { sc.height = BOT_ROOM; },
            afterBuildTicks: (sc: any) => { sc.ticks = s.xTicks.map((v) => ({ value: v })); },
            grid: { display: false, drawTicks: false },
            border: { display: true, color: '#000', width: st.axisW },
            ticks: {
              autoSkip: false, maxRotation: 0, minRotation: 0, padding: st.xPad, color: '#000',
              font: { size: st.xFont, weight: 'bold', lineHeight: st.xLH },
              callback: (_v: any, i: number) => s.xLabels[i],
            },
          },
          y: {
            type: 'linear',
            min: 0,
            max: s.yMax,
            afterFit: (sc: any) => { sc.width = yW; },
            afterBuildTicks: (sc: any) => { sc.ticks = s.yTicks.map((v) => ({ value: v })); },
            grid: { display: true, drawOnChartArea: false, drawTicks: true, tickLength: st.tickLen, color: '#000', tickColor: '#000', lineWidth: st.axisW, tickWidth: st.axisW },
            border: { display: true, color: '#000', width: st.axisW },
            ticks: {
              padding: 2, color: '#000',
              font: { size: st.tickFont, weight: 'bold' },
              callback: (v: any) => (s.yDec ? Number(v).toFixed(s.yDec) : String(v)),
            },
            title: { display: true, text: s.yTitle, color: '#000', padding: 0, font: { size: st.yTitleFont, weight: 'bold', lineHeight: 1.2 } },
          },
        },
      } as any,
      plugins: [{ id: 'extras_' + s.key, afterDraw: (c: any) => drawExtras(c, s, st) }],
    });
    return () => chart.destroy();
  }, []);
  return <canvas ref={ref} width={W} height={H} style={{ position: 'absolute', left, top, width: W, height: H }} />;
}

function Icon({ kind, color, x, y, r, lw = 1 }: { kind: string; color: string; x: number; y: number; r: number; lw?: number }) {
  const ref = useRef<HTMLCanvasElement | null>(null);
  const s = Math.ceil(r * 2.6 + lw + 2);
  useEffect(() => {
    const c = ref.current;
    if (!c) return;
    const ctx = c.getContext('2d')!;
    ctx.clearRect(0, 0, s, s);
    drawMarker(ctx, kind, s / 2, s / 2, r, color, lw);
  }, []);
  return <canvas ref={ref} width={s} height={s} style={{ position: 'absolute', left: x - s / 2, top: y - s / 2 }} />;
}

function Txt({ x, y, size, weight = 'bold', anchor = 'center', children }: any) {
  return (
    <div style={{
      position: 'absolute', left: x, top: y, fontSize: size, fontWeight: weight, lineHeight: 1,
      whiteSpace: 'nowrap', transform: anchor === 'center' ? 'translate(-50%,-50%)' : 'translate(0,-50%)', fontFamily: FONT, color: '#000',
    }}>{children}</div>
  );
}

const LETTERS: [string, number, number][] = [
  ['A', 15, 19], ['B', 15, 171], ['C', 15, 472], ['D', 17, 816], ['E', 395, 15], ['F', 395, 213], ['G', 395, 459], ['H', 298, 815],
];
const TITLES: [string, number, number, number][] = [
  ['CD4', 92, 37, 15], ['CD8', 197, 38, 15], ['ICOS', 303, 38, 15],
  ['CD4', 100, 188, 15], ['CD8', 215, 188, 15], ['ICOS', 325, 188, 15],
  ['CD45RO', 100, 337, 15], ['GrB', 213, 337, 15], ['CD68', 327, 337, 15],
  ['PD-1', 113, 497, 14.5], ['PD-L1 on tumor cells', 270, 497, 14.5],
  ['PD-L1 on immune cells', 110, 658, 14.5], ['VISTA', 273, 658, 14.5],
];

function PrePostLegend({ x, y, dy, dx, r, size, a, b, tx }: any) {
  const x2 = dx ? x + dx : x;
  const y2 = dx ? y : y + dy;
  return (
    <>
      <Icon kind="triFilled" color="#000" x={x} y={y} r={r} />
      <Txt x={x + tx} y={y} size={size} anchor="left">{a}</Txt>
      <Icon kind="circleFilled" color={RED} x={x2} y={y2} r={r} />
      <Txt x={x2 + tx} y={y2} size={size} anchor="left">{b}</Txt>
    </>
  );
}

export default function App() {
  return (
    <div style={{ position: 'absolute', left: 0, top: 0, width: 789, height: 1018, background: '#fff', overflow: 'hidden', fontFamily: FONT }}>
      {SPECS.map((s) => <DotPlot key={s.key} s={s} />)}
      {LETTERS.map(([t, x, y]) => <Txt key={t} x={x} y={y} size={19}>{t}</Txt>)}
      {TITLES.map(([t, x, y, f], i) => <Txt key={i} x={x} y={y} size={f}>{t}</Txt>)}
      {C_LEGEND.map((name, i) => {
        const [kind, color] = PT_STYLE[name];
        const y = 561 + i * 11.47;
        return (
          <React.Fragment key={name}>
            <Icon kind={kind} color={color} x={336} y={y} r={4} lw={1.2} />
            <Txt x={348} y={y} size={9.5} weight="normal" anchor="left">{name}</Txt>
          </React.Fragment>
        );
      })}
      <PrePostLegend x={70} y={824} dy={12} r={3.6} size={13} tx={8} a="Pre-Ipi" b="Post-Ipi" />
      <PrePostLegend x={458} y={37} dy={12} r={3} size={10.5} tx={13} a="Pre-Ipi" b="Post-Ipi" />
      <PrePostLegend x={525} y={447} dx={77} r={3} size={11} tx={11} a="Untreated" b="Treated" />
      <PrePostLegend x={527} y={805} dx={70} r={3} size={11} tx={10} a="Pre-Ipi" b="Post-Ipi" />
    </div>
  );
}
